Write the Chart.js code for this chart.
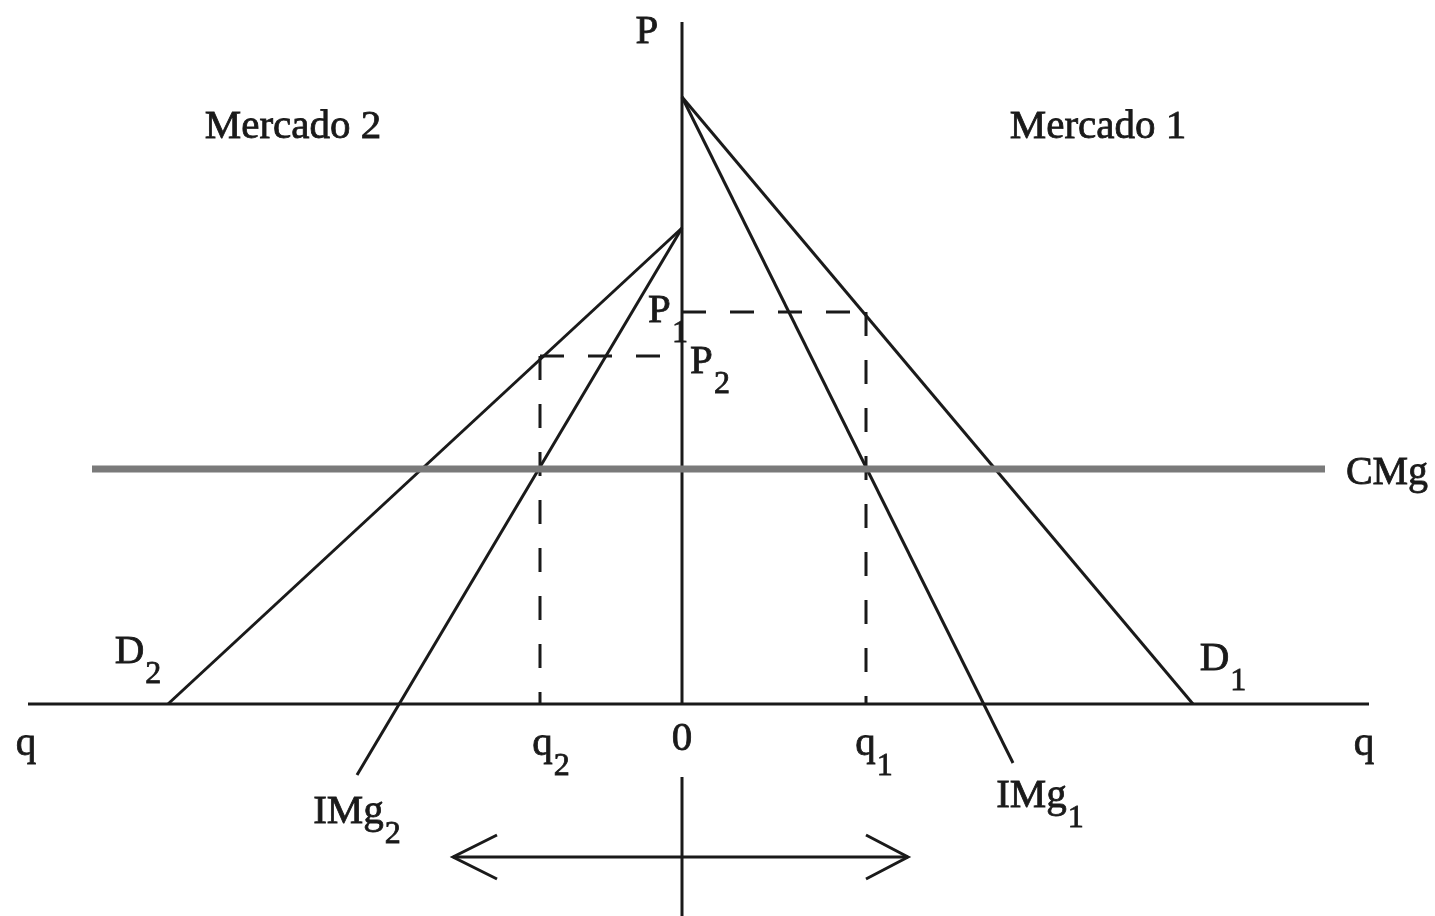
<!DOCTYPE html>
<html>
<head>
<meta charset="utf-8">
<script src="https://cdn.jsdelivr.net/npm/chart.js@4"></script>
<style>
  html, body { margin: 0; padding: 0; background: #fff; }
  #wrap { width: 1435px; height: 916px; position: relative; }
</style>
</head>
<body>
<div id="wrap"><canvas id="discriminacion"></canvas></div>
<script>
// quantities: market 1 to the right of 0, market 2 to the left (negative q)
var demanda1 = [[0, 607], [511, 0]];
var ingMg1 = [[0, 607], [331, -59]];
var demanda2 = [[0, 476], [-514, 0]];
var ingMg2 = [[0, 476], [-325, -71]];
var costoMg = [[-590, 235], [643, 235]];
var precio1 = 392, cantidad1 = 184;
var precio2 = 348, cantidad2 = -142;
var flecha = [[-229, -153], [226, -153]];
var ejeP = [[0, 682], [0, 0]];
var ejePabajo = [[0, -73], [0, -212]];
var ejeQ = [[-654, 0], [687, 0]];

// labels: text, subscript, q, P
var etiquetas = [
    ["P", "", -35, 661],
    ["Mercado 2", "", -389, 566],
    ["Mercado 1", "", 416, 566],
    ["P", "1", -14, 382],
    ["P", "2", 28, 331],
    ["q", "", -656, -51],
    ["q", "", 682, -51],
    ["q", "2", -131, -51],
    ["0", "", 0, -46],
    ["q", "1", 192, -51],
    ["D", "1", 541, 34],
    ["D", "2", -544, 41],
    ["IMg", "1", 358, -103],
    ["IMg", "2", -325, -119],
    ["CMg", "", 705, 220]
];

function pts(arr) {
    return arr.map(function (p) { return { x: p[0], y: p[1] }; });
}

var negro = "#1a1a1a";

function linea(arr, color, width, dash) {
    return {
        data: pts(arr),
        showLine: true,
        borderColor: color,
        borderWidth: width,
        borderDash: dash || [],
        pointRadius: 0,
        borderCapStyle: "butt",
        fill: false
    };
}

var textos = {
    id: "textos",
    afterDraw: function (chart) {
        var ctx = chart.ctx;
        var sx = chart.scales.x, sy = chart.scales.y;
        ctx.save();
        ctx.fillStyle = negro;
        ctx.strokeStyle = negro;
        ctx.lineWidth = 0.8;
        ctx.textBaseline = "alphabetic";
        ctx.textAlign = "left";
        etiquetas.forEach(function (e) {
            var big = e[0] == "CMg" ? 40 : 41;
            ctx.font = big + "px 'Liberation Serif'";
            var w = ctx.measureText(e[0]).width;
            ctx.font = "32px 'Liberation Serif'";
            var ws = e[1] ? ctx.measureText(e[1]).width + 1 : 0;
            var x = sx.getPixelForValue(e[2]) - (w + ws) / 2;
            var y = sy.getPixelForValue(e[3]);
            ctx.font = big + "px 'Liberation Serif'";
            ctx.fillText(e[0], x, y);
            ctx.strokeText(e[0], x, y);
            if (e[1]) {
                ctx.font = "32px 'Liberation Serif'";
                ctx.fillText(e[1], x + w + 1, y + 20);
                ctx.strokeText(e[1], x + w + 1, y + 20);
            }
        });
        // arrow heads
        var y0 = sy.getPixelForValue(flecha[0][1]);
        var xl = sx.getPixelForValue(flecha[0][0]);
        var xr = sx.getPixelForValue(flecha[1][0]);
        ctx.lineWidth = 3;
        ctx.beginPath();
        ctx.moveTo(xl + 44, y0 - 22); ctx.lineTo(xl, y0); ctx.lineTo(xl + 44, y0 + 22);
        ctx.moveTo(xr - 42, y0 - 22); ctx.lineTo(xr, y0); ctx.lineTo(xr - 42, y0 + 22);
        ctx.stroke();
        ctx.restore();
    }
};

new Chart(document.getElementById("discriminacion"), {
    type: "scatter",
    data: {
        datasets: [
            linea(costoMg, "#7a7a7a", 7),
            linea(ejeP, negro, 3),
            linea(ejePabajo, negro, 3),
            linea(ejeQ, negro, 3),
            linea(demanda1, negro, 3),
            linea(ingMg1, negro, 3),
            linea(demanda2, negro, 3),
            linea(ingMg2, negro, 3),
            linea([[0, precio1], [cantidad1, precio1]], negro, 3, [24, 24]),
            linea([[cantidad1, precio1], [cantidad1, 0]], negro, 3, [24, 24]),
            linea([[cantidad2, precio2], [0, precio2]], negro, 3, [24, 24]),
            linea([[cantidad2, precio2], [cantidad2, 0]], negro, 3, [24, 24]),
            linea(flecha, negro, 3)
        ]
    },
    options: {
        responsive: true,
        maintainAspectRatio: false,
        animation: false,
        layout: { padding: 0 },
        plugins: { legend: { display: false }, tooltip: { enabled: false } },
        scales: {
            x: { type: "linear", min: -682, max: 753, display: false },
            y: { type: "linear", min: -212, max: 704, display: false }
        }
    },
    plugins: [textos]
});
</script>
</body>
</html>
